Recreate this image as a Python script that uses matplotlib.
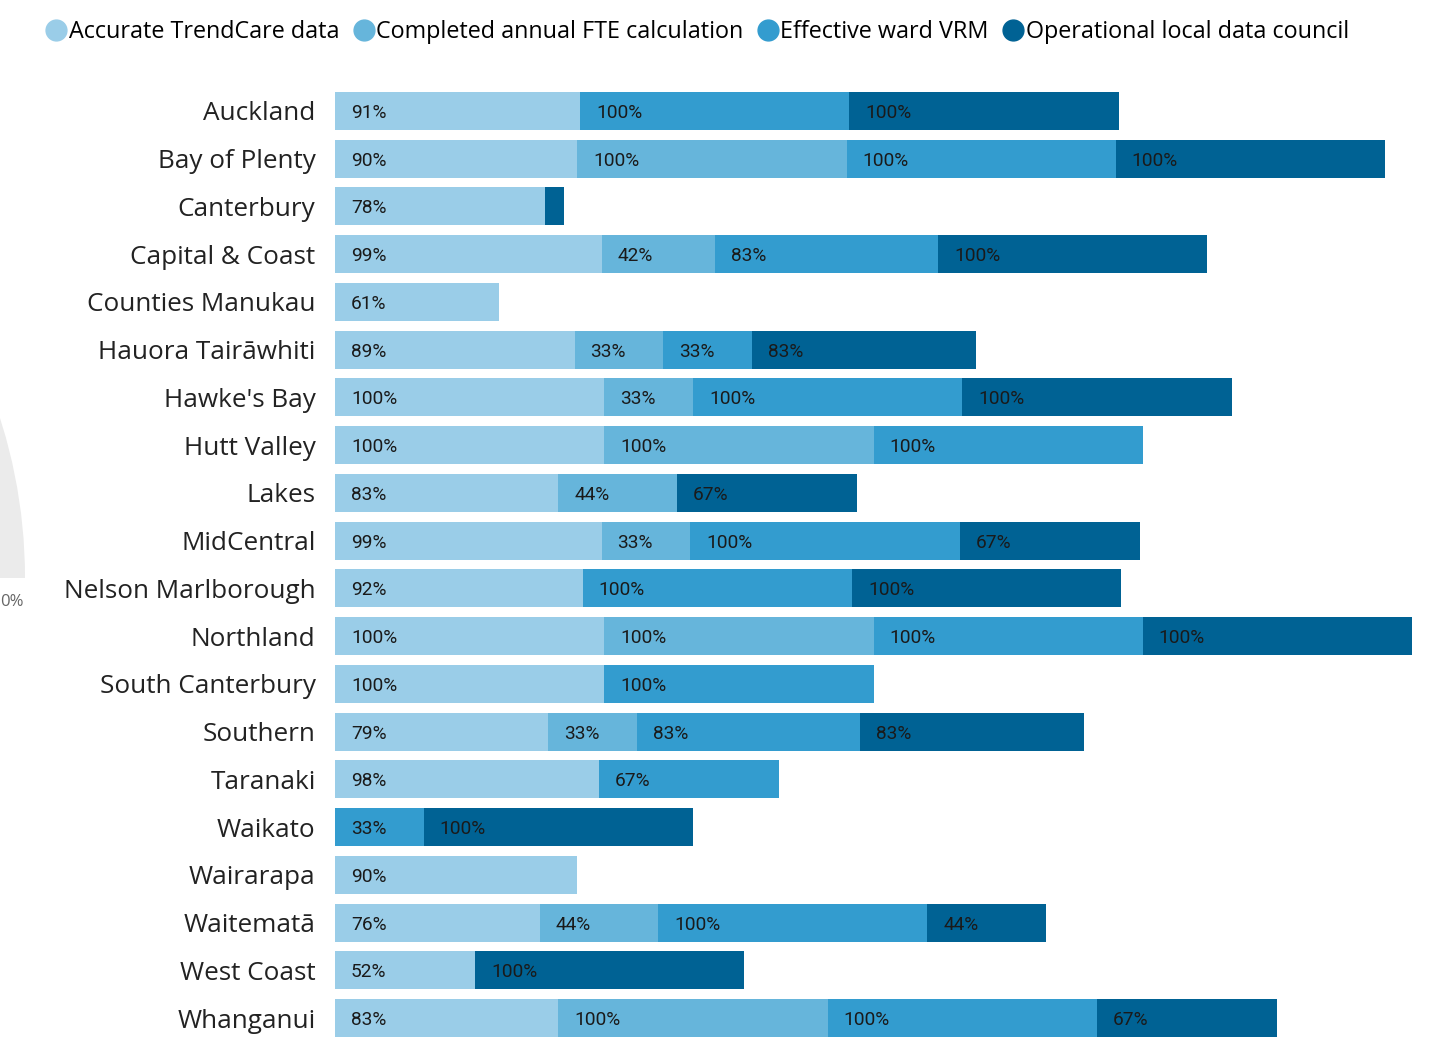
import matplotlib.pyplot as plt
from matplotlib.patches import Wedge
from matplotlib.lines import Line2D

regions = ["Auckland", "Bay of Plenty", "Canterbury", "Capital & Coast",
           "Counties Manukau", "Hauora Tairāwhiti", "Hawke's Bay", "Hutt Valley",
           "Lakes", "MidCentral", "Nelson Marlborough", "Northland",
           "South Canterbury", "Southern", "Taranaki", "Waikato", "Wairarapa",
           "Waitematā", "West Coast", "Whanganui"]

series_names = ["Accurate TrendCare data", "Completed annual FTE calculation",
                "Effective ward VRM", "Operational local data council"]

accurate = [91, 90, 78, 99, 61, 89, 100, 100, 83, 99, 92, 100, 100, 79, 98, 0, 90, 76, 52, 83]
fte      = [0, 100, 0, 42, 0, 33, 33, 100, 44, 33, 0, 100, 0, 33, 0, 0, 0, 44, 0, 100]
vrm      = [100, 100, 0, 83, 0, 33, 100, 100, 0, 100, 100, 100, 100, 83, 67, 33, 0, 100, 0, 100]
council  = [100, 100, 7, 100, 0, 83, 100, 0, 67, 67, 100, 100, 0, 83, 0, 100, 0, 44, 100, 67]

colors = ["#9ACDE8", "#66B5DB", "#339CCF", "#006294"]

W, H = 1433, 1047
fig = plt.figure(figsize=(W / 100, H / 100), dpi=100)

# partial gauge from a neighbouring visual at the left edge
bg = fig.add_axes([0, 0, 1, 1], zorder=-1)
bg.set_xlim(0, W)
bg.set_ylim(H, 0)
bg.axis("off")
bg.add_patch(Wedge((-500, 578), 525, 180, 360, width=160, color="#EBEBEB", lw=0))
bg.text(24, 602, "0%", ha="right", va="center", color="#666666",
        fontsize=12, family="Open Sans")

ax = fig.add_axes([335 / W, 1 - 1042 / H, (1412 - 335) / W, (1042 - 87) / H])
ypos = list(range(len(regions)))
left = [0] * len(regions)
for vals, col in zip([accurate, fte, vrm, council], colors):
    ax.barh(ypos, vals, left=left, height=0.8, color=col, lw=0)
    for i, v in enumerate(vals):
        if v >= 15:
            ax.annotate(f"{v}%", (left[i], i), xytext=(11.5, -1.5),
                        textcoords="offset points", ha="left", va="center",
                        fontsize=13.8, family="Roboto", color="#1A1A1A")
    left = [l + v for l, v in zip(left, vals)]

ax.set_xlim(0, 400)
ax.set_ylim(len(regions) - 0.5, -0.5)
ax.set_yticks(ypos)
ax.set_yticklabels(regions, fontsize=18.8, family="Open Sans", color="#222222")
ax.tick_params(axis="y", length=0, pad=14)
ax.set_xticks([])
for s in ax.spines.values():
    s.set_visible(False)

handles = [Line2D([], [], marker="o", ls="", markersize=15, color=c) for c in colors]
fig.legend(handles, series_names, loc="upper left", bbox_to_anchor=(20 / W, 1 + 1 / H),
           ncol=4, frameon=False, handletextpad=-0.1, columnspacing=0.38,
           handlelength=1.3, prop={"family": "Open Sans", "size": 16.8})

fig.savefig("out.png", dpi=100)
